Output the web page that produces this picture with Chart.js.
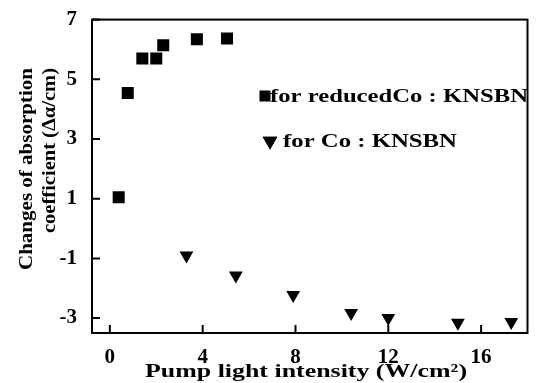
<!DOCTYPE html>
<html>
<head>
<meta charset="utf-8">
<script src="https://cdn.jsdelivr.net/npm/chart.js@4"></script>
<style>
  html, body { margin: 0; padding: 0; background: #fff; }
  #wrap { width: 536px; height: 383px; }
</style>
</head>
<body>
<div id="wrap"><canvas id="chart"></canvas></div>
<script>
// data
const reducedX = [0.38, 0.77, 1.4, 2.0, 2.3, 3.75, 5.05];
const reducedY = [1.05, 4.54, 5.7, 5.7, 6.14, 6.34, 6.37];
const coX = [3.3, 5.43, 7.9, 10.4, 12.0, 15.0, 17.3];
const coY = [-0.9, -1.57, -2.23, -2.83, -3.0, -3.16, -3.13];
const xTicks = [0, 4, 8, 12, 16];
const yTicks = [7, 5, 3, 1, -1, -3];
const seriesLabels = ['for reducedCo : KNSBN', 'for Co : KNSBN'];
const xTitle = 'Pump light intensity (W/cm²)';
const yTitle = ['Changes of absorption', 'coefficient (Δα/cm)'];

const FONT = "'Liberation Serif', 'DejaVu Serif', serif";

// text squeezed/stretched to the width it has in the picture
function stretchText(ctx, text, x, y, width, align) {
  const w = ctx.measureText(text).width;
  const sx = width / w;
  ctx.save();
  ctx.translate(x, y);
  ctx.scale(sx, 1);
  ctx.textAlign = align || 'left';
  ctx.fillText(text, 0, 0);
  ctx.restore();
}

// Box frame, inside ticks, titles and legend
const framePlugin = {
  id: 'frame',
  afterDraw(chart) {
    const { ctx, chartArea: a, scales } = chart;
    ctx.save();
    ctx.strokeStyle = '#000';
    ctx.lineWidth = 2;
    ctx.strokeRect(a.left, a.top, a.right - a.left, a.bottom - a.top);
    ctx.beginPath();
    xTicks.forEach(v => {
      const px = scales.x.getPixelForValue(v);
      ctx.moveTo(px, a.bottom);
      ctx.lineTo(px, a.bottom - 8);
    });
    yTicks.forEach(v => {
      const py = scales.y.getPixelForValue(v);
      ctx.moveTo(a.left, py);
      ctx.lineTo(a.left + 8, py);
    });
    ctx.stroke();

    ctx.fillStyle = '#000';
    ctx.textBaseline = 'middle';
    ctx.font = 'bold 19px ' + FONT;

    // x title
    stretchText(ctx, xTitle, 145, 372, 322, 'left');

    // y title, two lines, end-aligned
    ctx.save();
    ctx.translate(27, 68);
    ctx.rotate(-Math.PI / 2);
    stretchText(ctx, yTitle[0], 0, 0, 202, 'right');
    ctx.restore();
    ctx.save();
    ctx.translate(50, 68);
    ctx.rotate(-Math.PI / 2);
    stretchText(ctx, yTitle[1], 0, 0, 165, 'right');
    ctx.restore();

    // legend
    const items = [
      { x: 265, y: 96, r: 7.5, tx: 270, w: 258 },
      { x: 270, y: 141, r: 8.5, tx: 283, w: 174 }
    ];
    chart.data.datasets.forEach((ds, i) => {
      const it = items[i];
      ctx.beginPath();
      Chart.helpers.drawPoint(ctx, {
        pointStyle: ds.pointStyle,
        radius: it.r,
        rotation: ds.rotation || 0,
        borderWidth: 0
      }, it.x, it.y);
      ctx.fill();
      stretchText(ctx, ds.label, it.tx, it.y + 1, it.w, 'left');
    });
    ctx.restore();
  }
};

new Chart(document.getElementById('chart'), {
  type: 'scatter',
  data: {
    datasets: [
      {
        label: seriesLabels[0],
        data: reducedX.map((x, i) => ({ x: x, y: reducedY[i] })),
        pointStyle: 'rect',
        pointRadius: 8.5,
        backgroundColor: '#000',
        borderColor: '#000',
        borderWidth: 0
      },
      {
        label: seriesLabels[1],
        data: coX.map((x, i) => ({ x: x, y: coY[i] })),
        pointStyle: 'triangle',
        rotation: 180,
        pointRadius: 8,
        backgroundColor: '#000',
        borderColor: '#000',
        borderWidth: 0
      }
    ]
  },
  options: {
    responsive: true,
    maintainAspectRatio: false,
    animation: false,
    layout: { padding: { top: 17, right: 3, left: 0, bottom: 0 } },
    plugins: {
      legend: { display: false },
      tooltip: { enabled: false }
    },
    scales: {
      x: {
        type: 'linear',
        min: -0.77,
        max: 18,
        afterBuildTicks: s => { s.ticks = xTicks.map(v => ({ value: v })); },
        afterFit: s => { s.height = 50; },
        grid: { display: false },
        border: { display: false },
        ticks: { color: '#000', padding: 4, font: { family: FONT, size: 21, weight: 'bold' } }
      },
      y: {
        type: 'linear',
        min: -3.5,
        max: 7,
        afterBuildTicks: s => { s.ticks = yTicks.map(v => ({ value: v })); },
        afterFit: s => { s.width = 92; },
        grid: { display: false },
        border: { display: false },
        ticks: { color: '#000', padding: 7, font: { family: FONT, size: 21, weight: 'bold' } }
      }
    }
  },
  plugins: [framePlugin]
});
</script>
</body>
</html>
